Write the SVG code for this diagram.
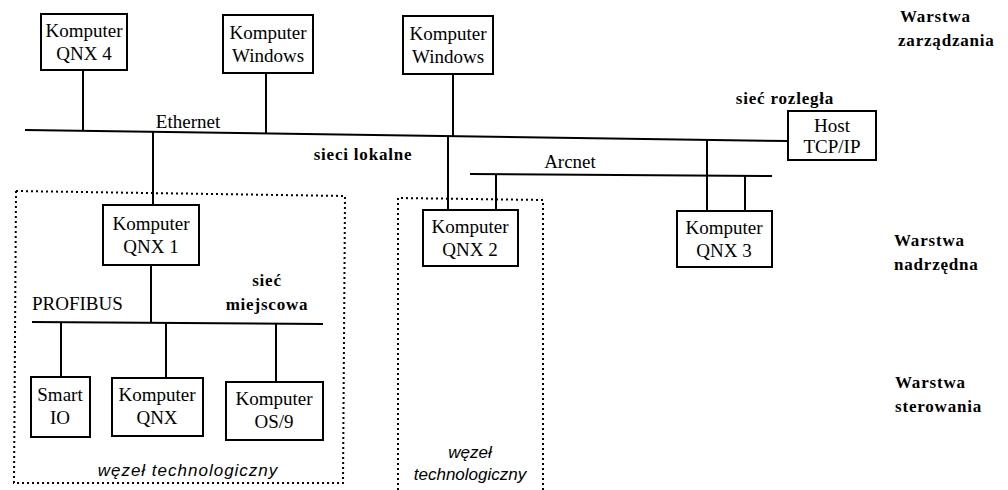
<svg xmlns="http://www.w3.org/2000/svg" width="1008" height="490" viewBox="0 0 1008 490">
<style>
.box{fill:#fff;stroke:#000;stroke-width:2}
.ln{stroke:#000;stroke-width:2;fill:none}
.dot{stroke:#000;stroke-width:2;fill:none;stroke-dasharray:2 3}
.t{font-family:"Liberation Serif",serif;font-size:19px;fill:#000;text-anchor:middle}
.b{font-family:"Liberation Serif",serif;font-weight:bold;font-size:17px;fill:#000;letter-spacing:0.8px}
.i{font-family:"Liberation Sans",sans-serif;font-style:italic;font-size:17px;fill:#000;text-anchor:middle}
</style>
<rect width="1008" height="490" fill="#fff"/>
<g id="connectors">
<path class="ln" d="M25,130 L788,141"/>
<path class="ln" d="M83,70 V131"/>
<path class="ln" d="M266,73 V133.5"/>
<path class="ln" d="M453,74 V136"/>
<path class="ln" d="M153,132 V205"/>
<path class="ln" d="M448,136 V210"/>
<path class="ln" d="M707,140 V211"/>
<path class="ln" d="M470,174 L772,176"/>
<path class="ln" d="M496,174 V210"/>
<path class="ln" d="M745,176 V211"/>
<path class="ln" d="M151,265 V323"/>
<path class="ln" d="M32,322 L323,324"/>
<path class="ln" d="M61,322 V377"/>
<path class="ln" d="M166,323 V378"/>
<path class="ln" d="M276,324 V382"/>
</g>
<g id="group-wezel1"><path class="dot" d="M16,191 L345,196 L343,483 L14,483 Z"/></g>
<g id="group-wezel2"><path class="dot" d="M398,490 L398,198 L543,200 L543,490"/></g>
<g id="qnx4"><rect class="box" x="41" y="14" width="86" height="56"/><text class="t" x="84" y="37">Komputer</text><text class="t" x="84" y="60">QNX 4</text></g>
<g id="win1"><rect class="box" x="223" y="15" width="90" height="58"/><text class="t" x="268" y="39">Komputer</text><text class="t" x="268" y="62">Windows</text></g>
<g id="win2"><rect class="box" x="403" y="16" width="90" height="58"/><text class="t" x="448" y="40">Komputer</text><text class="t" x="448" y="63">Windows</text></g>
<g id="host"><rect class="box" x="788" y="111" width="88" height="49"/><text class="t" x="832" y="132">Host</text><text class="t" x="832" y="153">TCP/IP</text></g>
<g id="qnx1"><rect class="box" x="103" y="205" width="96" height="60"/><text class="t" x="151" y="230">Komputer</text><text class="t" x="151" y="253">QNX 1</text></g>
<g id="qnx2"><rect class="box" x="423" y="210" width="95" height="56"/><text class="t" x="470" y="233">Komputer</text><text class="t" x="470" y="256">QNX 2</text></g>
<g id="qnx3"><rect class="box" x="677" y="211" width="95" height="56"/><text class="t" x="724" y="234">Komputer</text><text class="t" x="724" y="257">QNX 3</text></g>
<g id="smartio"><rect class="box" x="31" y="377" width="59" height="60"/><text class="t" x="60" y="401">Smart</text><text class="t" x="60" y="424">IO</text></g>
<g id="qnx"><rect class="box" x="112" y="378" width="91" height="58"/><text class="t" x="157" y="401">Komputer</text><text class="t" x="157" y="424">QNX</text></g>
<g id="os9"><rect class="box" x="226" y="382" width="97" height="58"/><text class="t" x="274" y="405">Komputer</text><text class="t" x="274" y="428">OS/9</text></g>
<g id="labels">
<text class="t" x="188" y="128">Ethernet</text>
<text class="t" x="570" y="168">Arcnet</text>
<text class="t" x="32" y="310" style="text-anchor:start">PROFIBUS</text>
<text class="b" x="267" y="286" text-anchor="middle">sieć</text>
<text class="b" x="267" y="310" text-anchor="middle">miejscowa</text>
<text class="b" x="363" y="160" text-anchor="middle">sieci lokalne</text>
<text class="b" x="785" y="104" text-anchor="middle">sieć rozległa</text>
<text class="b" x="900" y="22">Warstwa</text>
<text class="b" x="898" y="46">zarządzania</text>
<text class="b" x="894" y="246">Warstwa</text>
<text class="b" x="894" y="270">nadrzędna</text>
<text class="b" x="895" y="388">Warstwa</text>
<text class="b" x="895" y="412">sterowania</text>
<text class="i" x="188" y="476" style="letter-spacing:1px">węzeł technologiczny</text>
<text class="i" x="470" y="458">węzeł</text>
<text class="i" x="470" y="480">technologiczny</text>
</g>
</svg>
